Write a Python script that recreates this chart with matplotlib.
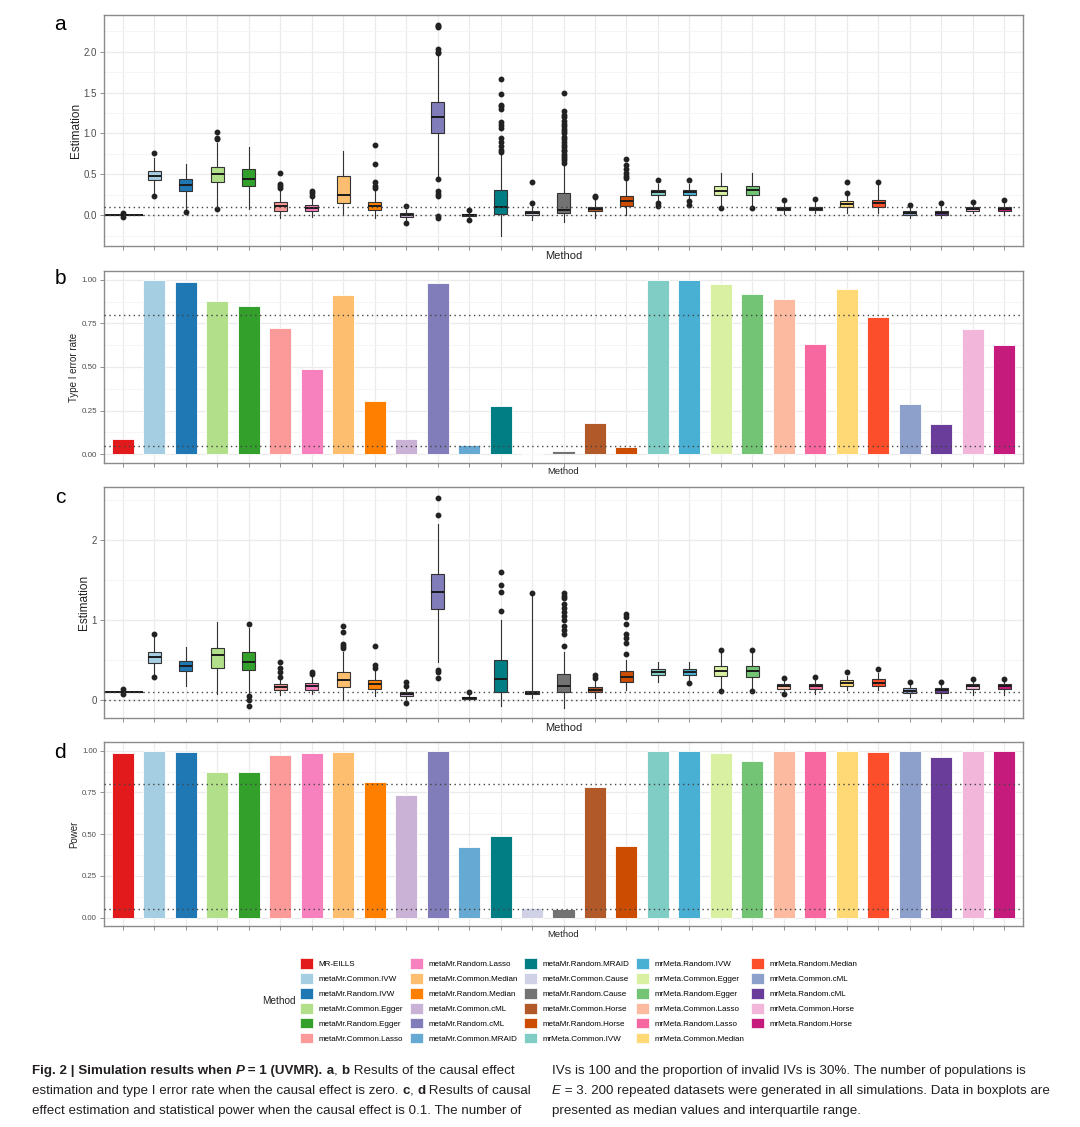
import matplotlib.pyplot as plt
from matplotlib.patches import Patch
from matplotlib.ticker import MultipleLocator, NullFormatter

plt.rcParams['font.family'] = ['Liberation Sans', 'DejaVu Sans']

methods = ["MR-EILLS", "metaMr.Common.IVW", "metaMr.Random.IVW", "metaMr.Common.Egger",
           "metaMr.Random.Egger", "metaMr.Common.Lasso", "metaMr.Random.Lasso",
           "metaMr.Common.Median", "metaMr.Random.Median", "metaMr.Common.cML",
           "metaMr.Random.cML", "metaMr.Common.MRAID", "metaMr.Random.MRAID",
           "metaMr.Common.Cause", "metaMr.Random.Cause", "metaMr.Common.Horse",
           "metaMr.Random.Horse", "mrMeta.Common.IVW", "mrMeta.Random.IVW",
           "mrMeta.Common.Egger", "mrMeta.Random.Egger", "mrMeta.Common.Lasso",
           "mrMeta.Random.Lasso", "mrMeta.Common.Median", "mrMeta.Random.Median",
           "mrMeta.Common.cML", "mrMeta.Random.cML", "mrMeta.Common.Horse",
           "mrMeta.Random.Horse"]

colors = ["#E31A1C", "#A6CEE3", "#1F78B4", "#B2DF8A", "#33A02C", "#FB9A99", "#F781BF",
          "#FDBF6F", "#FF7F00", "#CAB2D6", "#807DBA", "#66A9D2", "#017E84", "#D0D1E6",
          "#737373", "#B15928", "#CC4C02", "#7FCDC4", "#4AB0D3", "#D9F0A3", "#74C476",
          "#FCBBA1", "#F768A1", "#FED976", "#FC4E2A", "#8DA0CB", "#6A3D9A", "#F1B6DA",
          "#C51B7D"]

# panel a: estimation, causal effect = 0
a_q1 = [-0.004, 0.43, 0.30, 0.40, 0.355, 0.055, 0.045, 0.15, 0.06, -0.02, 1.005, -0.01, 0.01,
        0.0, 0.02, 0.045, 0.115, 0.25, 0.25, 0.25, 0.25, 0.057, 0.057, 0.105, 0.10, 0.0, 0.0,
        0.053, 0.053]
a_med = [0.0, 0.475, 0.37, 0.50, 0.445, 0.11, 0.085, 0.25, 0.11, 0.0, 1.20, 0.0, 0.10, 0.02,
         0.065, 0.07, 0.175, 0.28, 0.28, 0.30, 0.31, 0.08, 0.08, 0.14, 0.145, 0.028, 0.028,
         0.075, 0.08]
a_q3 = [0.004, 0.54, 0.44, 0.59, 0.57, 0.155, 0.12, 0.48, 0.165, 0.02, 1.39, 0.01, 0.31,
        0.05, 0.276, 0.095, 0.235, 0.31, 0.31, 0.36, 0.36, 0.105, 0.105, 0.17, 0.18, 0.05,
        0.05, 0.097, 0.105]
a_lo = [-0.015, 0.27, 0.08, 0.10, 0.08, -0.03, -0.02, 0.0, -0.03, -0.06, 0.45, -0.04, -0.25,
        -0.06, -0.08, -0.03, 0.0, 0.17, 0.17, 0.11, 0.11, 0.01, 0.02, 0.03, 0.03, -0.03,
        -0.03, 0.02, 0.015]
a_hi = [0.015, 0.70, 0.62, 0.88, 0.84, 0.30, 0.22, 0.79, 0.30, 0.06, 1.95, 0.04, 0.75, 0.13,
        0.62, 0.20, 0.42, 0.38, 0.38, 0.51, 0.51, 0.15, 0.16, 0.23, 0.37, 0.10, 0.12, 0.14,
        0.16]
a_fliers = [
    [0.03, -0.02], [0.235, 0.755], [0.035], [0.075, 0.93, 0.95, 1.02], [],
    [0.33, 0.36, 0.38, 0.52], [0.24, 0.27, 0.30], [],
    [0.33, 0.36, 0.41, 0.63, 0.86], [0.11, -0.10],
    [1.98, 2.00, 2.03, 2.30, 2.32, 2.33, 0.44, 0.29, 0.26, 0.23, -0.01, -0.03],
    [0.06, -0.06],
    [0.77, 0.80, 0.85, 0.90, 0.94, 1.07, 1.10, 1.14, 1.30, 1.33, 1.35, 1.48, 1.67],
    [0.15, 0.41],
    [0.64, 0.67, 0.70, 0.72, 0.75, 0.78, 0.80, 0.83, 0.86, 0.90, 0.93, 0.96, 1.00, 1.03,
     1.06, 1.09, 1.12, 1.15, 1.20, 1.23, 1.27, 1.49],
    [0.22, 0.24], [0.45, 0.48, 0.52, 0.56, 0.61, 0.69], [0.43, 0.146, 0.114],
    [0.43, 0.175, 0.12], [0.085], [0.093], [0.18], [0.20], [0.27, 0.405], [0.40],
    [0.125], [0.15], [0.166], [0.19]]

# panel b: type I error rate
type1_rate = [0.089, 1.00, 0.989, 0.88, 0.852, 0.725, 0.488, 0.913, 0.306, 0.089, 0.979,
              0.051, 0.277, 0.0, 0.02, 0.182, 0.042, 1.00, 1.00, 0.973, 0.918, 0.892, 0.632,
              0.947, 0.784, 0.287, 0.171, 0.719, 0.626]

# panel c: estimation, causal effect = 0.1
c_q1 = [0.095, 0.467, 0.36, 0.404, 0.38, 0.125, 0.13, 0.167, 0.142, 0.05, 1.142, 0.015,
        0.096, 0.07, 0.096, 0.096, 0.23, 0.31, 0.31, 0.30, 0.29, 0.14, 0.14, 0.18, 0.18,
        0.083, 0.083, 0.14, 0.14]
c_med = [0.10, 0.533, 0.425, 0.56, 0.48, 0.165, 0.17, 0.25, 0.20, 0.07, 1.354, 0.025, 0.26,
         0.09, 0.175, 0.125, 0.29, 0.355, 0.355, 0.36, 0.36, 0.17, 0.18, 0.217, 0.21, 0.117,
         0.12, 0.17, 0.17]
c_q3 = [0.105, 0.596, 0.49, 0.654, 0.60, 0.20, 0.21, 0.354, 0.246, 0.096, 1.575, 0.035,
        0.496, 0.11, 0.32, 0.158, 0.36, 0.39, 0.39, 0.42, 0.42, 0.20, 0.20, 0.25, 0.26, 0.15,
        0.15, 0.20, 0.20]
c_lo = [0.085, 0.30, 0.17, 0.07, 0.08, 0.06, 0.08, 0.0, 0.05, -0.03, 0.48, 0.0, -0.08, 0.02,
        -0.10, 0.02, 0.125, 0.22, 0.24, 0.12, 0.12, 0.07, 0.075, 0.125, 0.13, 0.033, 0.03,
        0.065, 0.065]
c_hi = [0.115, 0.79, 0.66, 0.97, 0.90, 0.27, 0.30, 0.60, 0.36, 0.15, 2.20, 0.08, 1.00, 1.32,
        0.60, 0.26, 0.50, 0.48, 0.48, 0.60, 0.60, 0.24, 0.26, 0.30, 0.34, 0.20, 0.20, 0.24,
        0.24]
c_fliers = [
    [0.14, 0.07], [0.825, 0.283], [], [], [0.95, 0.05, 0.0, -0.07],
    [0.29, 0.35, 0.40, 0.47], [0.33, 0.35], [0.65, 0.67, 0.70, 0.85, 0.93],
    [0.40, 0.44, 0.68], [0.18, 0.22, -0.04],
    [2.31, 2.52, 0.375, 0.35, 0.27], [0.10], [1.11, 1.35, 1.43, 1.60], [1.34],
    [0.67, 0.83, 0.88, 0.93, 1.00, 1.05, 1.10, 1.15, 1.20, 1.27, 1.30, 1.33],
    [0.28, 0.31], [0.58, 0.71, 0.77, 0.83, 0.95, 1.04, 1.08], [], [0.21],
    [0.62, 0.117], [0.62, 0.117], [0.27, 0.07], [0.29], [0.345], [0.39], [0.23],
    [0.23], [0.26], [0.26]]

# panel d: power
power = [0.986, 1.00, 0.992, 0.87, 0.87, 0.976, 0.986, 0.992, 0.815, 0.735, 0.998, 0.426,
         0.49, 0.056, 0.05, 0.781, 0.43, 1.00, 1.00, 0.986, 0.938, 1.00, 1.00, 1.00, 0.992,
         1.00, 0.964, 1.00, 1.00]

W, H = 1080, 1127
fig = plt.figure(figsize=(W / 100, H / 100), dpi=100)
x = list(range(1, len(methods) + 1))
GRAY_TXT = '#4D4D4D'


def rect(left, top, right, bottom):
    return [left / W, 1 - bottom / H, (right - left) / W, (bottom - top) / H]


def style_axis(ax, ylim, major, minor, fmt, tick_size, ylabel, ylabel_size, xlabel_size,
               labelpad):
    ax.set_xlim(0.4, len(methods) + 0.6)
    ax.set_ylim(*ylim)
    ax.set_xticks(x)
    ax.xaxis.set_major_formatter(NullFormatter())
    ax.yaxis.set_major_locator(MultipleLocator(major))
    ax.yaxis.set_minor_locator(MultipleLocator(minor))
    ax.yaxis.set_major_formatter(plt.FuncFormatter(lambda v, p: fmt.format(v)))
    ax.yaxis.set_minor_formatter(NullFormatter())
    ax.tick_params(axis='both', which='major', length=3, width=0.6, color='#7F7F7F',
                   labelsize=tick_size, labelcolor=GRAY_TXT, pad=2)
    ax.tick_params(axis='y', which='minor', length=0)
    ax.grid(which='major', color='#EBEBEB', lw=0.9)
    ax.grid(which='minor', axis='y', color='#F4F4F4', lw=0.6)
    ax.set_axisbelow(True)
    for s in ax.spines.values():
        s.set_color('#8A8A8A')
        s.set_linewidth(1.0)
    ax.set_ylabel(ylabel, fontsize=ylabel_size, color='#222222', labelpad=labelpad)
    ax.set_xlabel('Method', fontsize=xlabel_size, color='#222222', labelpad=3)
    ax.xaxis.set_label_coords(0.5, -0.02, transform=ax.transAxes)
    ax.xaxis.label.set_va('top')


def draw_boxes(ax, q1, med, q3, lo, hi, fliers, ref_lines):
    stats = []
    for i in range(len(methods)):
        stats.append(dict(q1=q1[i], med=med[i], q3=q3[i], whislo=lo[i], whishi=hi[i],
                          fliers=fliers[i]))
    widths = [1.3] + [0.42] * (len(methods) - 1)
    bp = ax.bxp(stats, positions=x, widths=widths, patch_artist=True, showcaps=False,
                boxprops=dict(edgecolor='#333333', linewidth=0.8),
                medianprops=dict(color='#1A1A1A', linewidth=1.4),
                whiskerprops=dict(color='#333333', linewidth=0.8),
                flierprops=dict(marker='o', markersize=3.2, markerfacecolor='#222222',
                                markeredgecolor='#222222', linestyle='none'))
    for patch, c in zip(bp['boxes'], colors):
        patch.set_facecolor(c)
    for v in ref_lines:
        ax.axhline(v, color='#444444', lw=1.0, ls=(0, (1, 2.5)), zorder=5)


def draw_bars(ax, values, ref_lines):
    ax.bar(x, values, width=0.7, color=colors, edgecolor='white', linewidth=0.6, zorder=2)
    for v in ref_lines:
        ax.axhline(v, color='#444444', lw=1.0, ls=(0, (1, 2.5)), zorder=5)


ax_a = fig.add_axes(rect(104, 15, 1023, 246))
draw_boxes(ax_a, a_q1, a_med, a_q3, a_lo, a_hi, a_fliers, [0.0, 0.1])
style_axis(ax_a, (-0.378, 2.45), 0.5, 0.25, '{:.1f}', 7, 'Estimation', 8.5, 8, 1)

ax_b = fig.add_axes(rect(104, 271, 1023, 463))
draw_bars(ax_b, type1_rate, [0.05, 0.8])
style_axis(ax_b, (-0.05, 1.05), 0.25, 0.125, '{:.2f}', 5.8, 'Type I error rate', 7, 6.8, 2)

ax_c = fig.add_axes(rect(104, 487, 1023, 718))
draw_boxes(ax_c, c_q1, c_med, c_q3, c_lo, c_hi, c_fliers, [0.0, 0.1])
style_axis(ax_c, (-0.225, 2.66), 1, 0.5, '{:.0f}', 7, 'Estimation', 8.5, 8, 1)

ax_d = fig.add_axes(rect(104, 742, 1023, 926))
draw_bars(ax_d, power, [0.05, 0.8])
style_axis(ax_d, (-0.05, 1.052), 0.25, 0.125, '{:.2f}', 5.6, 'Power', 7, 6.8, 2)

for letter, yy in zip('abcd', [24, 278, 497, 752]):
    fig.text(60 / W, 1 - yy / H, letter, fontsize=15, ha='center', va='center')

# legend
handles = [Patch(facecolor=c, edgecolor='white', linewidth=0.5) for c in colors]
fig.legend(handles, methods, ncol=5, loc='upper left',
           bbox_to_anchor=(300 / W, 1 - 958 / H), frameon=False, fontsize=5.8,
           handlelength=1.6, handleheight=1.7, handletextpad=0.7, labelspacing=0.5,
           columnspacing=0.83, borderpad=0, borderaxespad=0)
fig.text(279 / W, 1 - 1001 / H, 'Method', fontsize=7.2, ha='center', va='center',
         color='#222222')

# caption
renderer = fig.canvas.get_renderer()
cap_font = ['Liberation Sans Narrow', 'Liberation Sans']


def runs(x0, y0, parts, size=9.6):
    xx = x0
    for txt, weight, style in parts:
        t = fig.text(xx / W, 1 - y0 / H, txt, fontsize=size, fontweight=weight,
                     fontstyle=style, family=cap_font, va='baseline', color='#231F20')
        xx += t.get_window_extent(renderer).width


N, B, I = 'normal', 'bold', 'italic'
runs(32, 1074, [("Fig. 2 | Simulation results when ", B, N), ("P", B, I),
                (" = 1 (UVMR).", B, N), (" a", B, N), (", ", N, N), ("b", B, N),
                (" Results of the causal effect", N, N)])
runs(32, 1094, [("estimation and type I error rate when the causal effect is zero. ", N, N),
                ("c", B, N), (", ", N, N), ("d", B, N), (" Results of causal", N, N)])
runs(32, 1114, [("effect estimation and statistical power when the causal effect is 0.1. "
                 "The number of", N, N)])
runs(552, 1074, [("IVs is 100 and the proportion of invalid IVs is 30%. The number of "
                  "populations is", N, N)])
runs(552, 1094, [("E", N, I), (" = 3. 200 repeated datasets were generated in all "
                               "simulations. Data in boxplots are", N, N)])
runs(552, 1114, [("presented as median values and interquartile range.", N, N)])

fig.savefig('out.png', dpi=100)
